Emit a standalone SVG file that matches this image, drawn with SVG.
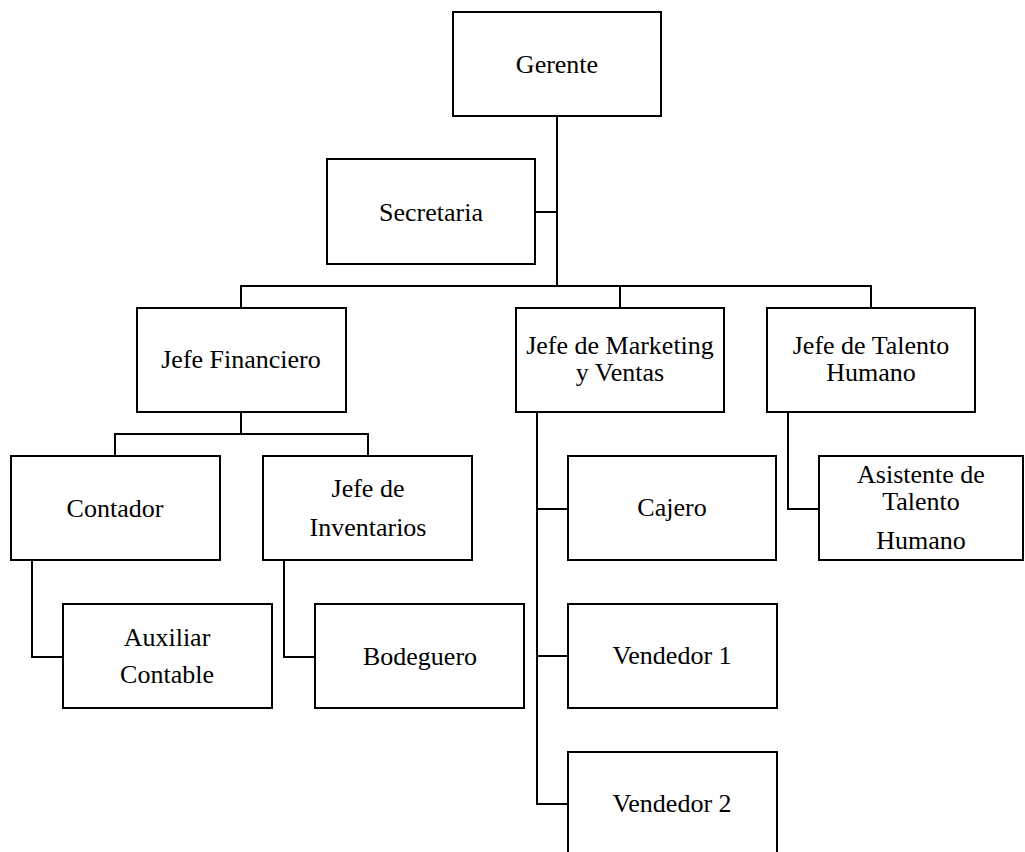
<svg xmlns="http://www.w3.org/2000/svg" width="1025" height="852" viewBox="0 0 1025 852">
<style>
.box{fill:#fff;stroke:#000;stroke-width:2}
.ln{fill:none;stroke:#000;stroke-width:2}
text{font-family:"Liberation Serif","Times New Roman",serif;font-size:26px;fill:#000;text-anchor:middle}
</style>
<rect width="1025" height="852" fill="#fff"/>
<g id="connectors">
<path class="ln" d="M557,116 V286"/>
<path class="ln" d="M535,212 H557"/>
<path class="ln" d="M241,308 V286 H871 V308"/>
<path class="ln" d="M620,286 V308"/>
<path class="ln" d="M241,412 V434"/>
<path class="ln" d="M115,456 V434 H368 V456"/>
<path class="ln" d="M32,560 V657 H63"/>
<path class="ln" d="M284,560 V657 H315"/>
<path class="ln" d="M537,412 V804 H568"/>
<path class="ln" d="M537,509 H568"/>
<path class="ln" d="M537,656 H568"/>
<path class="ln" d="M788,412 V509 H819"/>
</g>
<g id="gerente"><rect class="box" x="453" y="12" width="208" height="104"/><text x="557" y="73">Gerente</text></g>
<g id="secretaria"><rect class="box" x="327" y="159" width="208" height="105"/><text x="431" y="221">Secretaria</text></g>
<g id="jefe-financiero"><rect class="box" x="137" y="308" width="209" height="104"/><text x="241" y="368">Jefe Financiero</text></g>
<g id="jefe-marketing"><rect class="box" x="516" y="308" width="208" height="104"/><text x="620" y="354">Jefe de Marketing</text><text x="620" y="381">y Ventas</text></g>
<g id="jefe-talento"><rect class="box" x="767" y="308" width="208" height="104"/><text x="871" y="354">Jefe de Talento</text><text x="871" y="381">Humano</text></g>
<g id="contador"><rect class="box" x="11" y="456" width="209" height="104"/><text x="115" y="517">Contador</text></g>
<g id="jefe-inventarios"><rect class="box" x="263" y="456" width="209" height="104"/><text x="368" y="497">Jefe de</text><text x="368" y="536">Inventarios</text></g>
<g id="cajero"><rect class="box" x="568" y="456" width="208" height="104"/><text x="672" y="516">Cajero</text></g>
<g id="asistente-talento"><rect class="box" x="819" y="456" width="204" height="104"/><text x="921" y="483">Asistente de</text><text x="921" y="510">Talento</text><text x="921" y="549">Humano</text></g>
<g id="auxiliar-contable"><rect class="box" x="63" y="604" width="209" height="104"/><text x="167" y="646">Auxiliar</text><text x="167" y="683">Contable</text></g>
<g id="bodeguero"><rect class="box" x="315" y="604" width="209" height="104"/><text x="420" y="665">Bodeguero</text></g>
<g id="vendedor-1"><rect class="box" x="568" y="604" width="209" height="104"/><text x="672" y="664">Vendedor 1</text></g>
<g id="vendedor-2"><rect class="box" x="568" y="752" width="209" height="110"/><text x="672" y="812">Vendedor 2</text></g>
</svg>
